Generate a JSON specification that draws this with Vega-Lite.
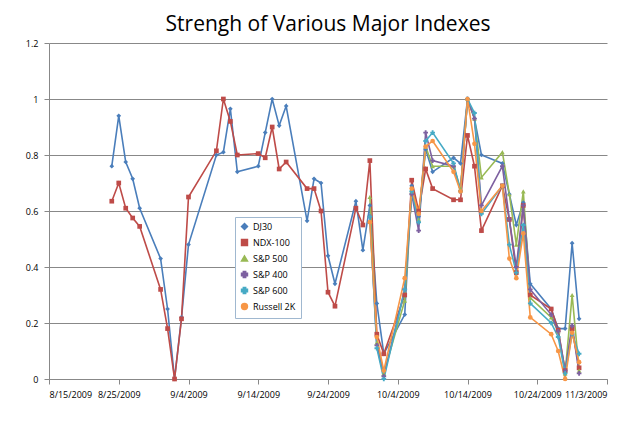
{
"$schema":"https://vega.github.io/schema/vega-lite/v6.json",
"width":558,"height":336,
"autosize":{"type":"none"},
"padding":{"left":49,"top":43,"right":33,"bottom":57},
"background":"white",
"title":{"text":"Strengh of Various Major Indexes","font":"Open Sans","fontSize":21,"fontWeight":"normal","color":"#000","anchor":"middle","offset":4},
"config":{"view":{"stroke":null},"axis":{"labelFont":"Open Sans","labelFontSize":9,"labelColor":"#000"}},
"data":{"values":[
{"d":"2009-08-24","DJ30":0.76,"NDX-100":0.635},
{"d":"2009-08-25","DJ30":0.94,"NDX-100":0.70},
{"d":"2009-08-26","DJ30":0.775,"NDX-100":0.61},
{"d":"2009-08-27","DJ30":0.715,"NDX-100":0.575},
{"d":"2009-08-28","DJ30":0.61,"NDX-100":0.545},
{"d":"2009-08-31","DJ30":0.43,"NDX-100":0.32},
{"d":"2009-09-01","DJ30":0.25,"NDX-100":0.18},
{"d":"2009-09-02","DJ30":0.0,"NDX-100":0.0},
{"d":"2009-09-03","DJ30":0.22,"NDX-100":0.215},
{"d":"2009-09-04","DJ30":0.48,"NDX-100":0.65},
{"d":"2009-09-08","DJ30":0.80,"NDX-100":0.815},
{"d":"2009-09-09","DJ30":0.81,"NDX-100":1.0},
{"d":"2009-09-10","DJ30":0.965,"NDX-100":0.92},
{"d":"2009-09-11","DJ30":0.74,"NDX-100":0.80},
{"d":"2009-09-14","DJ30":0.76,"NDX-100":0.805},
{"d":"2009-09-15","DJ30":0.88,"NDX-100":0.79},
{"d":"2009-09-16","DJ30":1.0,"NDX-100":0.90},
{"d":"2009-09-17","DJ30":0.905,"NDX-100":0.75},
{"d":"2009-09-18","DJ30":0.975,"NDX-100":0.775},
{"d":"2009-09-21","DJ30":0.565,"NDX-100":0.68},
{"d":"2009-09-22","DJ30":0.715,"NDX-100":0.68},
{"d":"2009-09-23","DJ30":0.70,"NDX-100":0.60},
{"d":"2009-09-24","DJ30":0.44,"NDX-100":0.31},
{"d":"2009-09-25","DJ30":0.34,"NDX-100":0.26},
{"d":"2009-09-28","DJ30":0.635,"NDX-100":0.61},
{"d":"2009-09-29","DJ30":0.46,"NDX-100":0.55},
{"d":"2009-09-30","DJ30":0.62,"NDX-100":0.78,"S&P 500":0.65,"S&P 400":0.58,"S&P 600":0.58,"Russell 2K":0.56},
{"d":"2009-10-01","DJ30":0.27,"NDX-100":0.16,"S&P 500":0.13,"S&P 400":0.12,"S&P 600":0.11,"Russell 2K":0.15},
{"d":"2009-10-02","DJ30":0.09,"NDX-100":0.09,"S&P 500":0.02,"S&P 400":0.01,"S&P 600":0.0,"Russell 2K":0.03},
{"d":"2009-10-05","DJ30":0.23,"NDX-100":0.30,"S&P 500":0.28,"S&P 400":0.32,"S&P 600":0.32,"Russell 2K":0.36},
{"d":"2009-10-06","DJ30":0.69,"NDX-100":0.71,"S&P 500":0.67,"S&P 400":0.66,"S&P 600":0.67,"Russell 2K":0.68},
{"d":"2009-10-07","DJ30":0.58,"NDX-100":0.60,"S&P 500":0.57,"S&P 400":0.53,"S&P 600":0.56,"Russell 2K":0.59},
{"d":"2009-10-08","DJ30":0.82,"NDX-100":0.75,"S&P 500":0.83,"S&P 400":0.88,"S&P 600":0.85,"Russell 2K":0.83},
{"d":"2009-10-09","DJ30":0.74,"NDX-100":0.68,"S&P 500":0.76,"S&P 400":0.78,"S&P 600":0.88,"Russell 2K":0.85},
{"d":"2009-10-12","DJ30":0.79,"NDX-100":0.64,"S&P 500":0.76,"S&P 400":0.76,"S&P 600":0.77,"Russell 2K":0.74},
{"d":"2009-10-13","DJ30":0.77,"NDX-100":0.64,"S&P 500":0.68,"S&P 400":0.67,"S&P 600":0.67,"Russell 2K":0.67},
{"d":"2009-10-14","DJ30":1.0,"NDX-100":0.87,"S&P 500":1.0,"S&P 400":1.0,"S&P 600":1.0,"Russell 2K":1.0},
{"d":"2009-10-15","DJ30":0.93,"NDX-100":0.76,"S&P 500":0.93,"S&P 400":0.93,"S&P 600":0.95,"Russell 2K":0.84},
{"d":"2009-10-16","DJ30":0.80,"NDX-100":0.53,"S&P 500":0.72,"S&P 400":0.62,"S&P 600":0.59,"Russell 2K":0.60},
{"d":"2009-10-19","DJ30":0.77,"NDX-100":0.69,"S&P 500":0.81,"S&P 400":0.76,"S&P 600":0.69,"Russell 2K":0.69},
{"d":"2009-10-20","DJ30":0.66,"NDX-100":0.57,"S&P 500":0.66,"S&P 400":0.57,"S&P 600":0.48,"Russell 2K":0.43},
{"d":"2009-10-21","DJ30":0.55,"NDX-100":0.38,"S&P 500":0.48,"S&P 400":0.40,"S&P 600":0.38,"Russell 2K":0.36},
{"d":"2009-10-22","DJ30":0.63,"NDX-100":0.62,"S&P 500":0.67,"S&P 400":0.62,"S&P 600":0.55,"Russell 2K":0.52},
{"d":"2009-10-23","DJ30":0.34,"NDX-100":0.30,"S&P 500":0.29,"S&P 400":0.32,"S&P 600":0.27,"Russell 2K":0.22},
{"d":"2009-10-26","DJ30":0.25,"NDX-100":0.25,"S&P 500":0.22,"S&P 400":0.23,"S&P 600":0.20,"Russell 2K":0.16},
{"d":"2009-10-27","DJ30":0.18,"NDX-100":0.175,"S&P 500":0.17,"S&P 400":0.17,"S&P 600":0.15,"Russell 2K":0.10},
{"d":"2009-10-28","DJ30":0.18,"NDX-100":0.03,"S&P 500":0.02,"S&P 400":0.03,"S&P 600":0.02,"Russell 2K":0.0},
{"d":"2009-10-29","DJ30":0.485,"NDX-100":0.18,"S&P 500":0.30,"S&P 400":0.19,"S&P 600":0.16,"Russell 2K":0.165},
{"d":"2009-10-30","DJ30":0.215,"NDX-100":0.04,"S&P 500":0.03,"S&P 400":0.02,"S&P 600":0.09,"Russell 2K":0.06}
]},
"transform":[
{"fold":["DJ30","NDX-100","S&P 500","S&P 400","S&P 600","Russell 2K"],"as":["s","v"]},
{"filter":"datum.v != null"}
],
"encoding":{
"x":{"field":"d","type":"temporal","scale":{"domain":["2009-08-15T00:00:00","2009-11-03T00:00:00"]},"axis":{"title":null,"values":["2009-08-15T00:00:00","2009-08-25T00:00:00","2009-09-04T00:00:00","2009-09-14T00:00:00","2009-09-24T00:00:00","2009-10-04T00:00:00","2009-10-14T00:00:00","2009-10-24T00:00:00","2009-11-03T00:00:00"],"format":"%-m/%-d/%Y","grid":false,"domainColor":"#888","tickColor":"#888","labelPadding":6}},
"y":{"field":"v","type":"quantitative","scale":{"domain":[0,1.2]},"axis":{"title":null,"values":[0,0.2,0.4,0.6,0.8,1,1.2],"format":"~g","gridColor":"#888","domainColor":"#888","tickColor":"#888","labelPadding":6}},
"color":{"field":"s","type":"nominal","scale":{"domain":["DJ30","NDX-100","S&P 500","S&P 400","S&P 600","Russell 2K"],"range":["#4A7EBB","#BE4B48","#98B954","#7D60A0","#46AAC5","#F79646"]},
"legend":{"title":null,"orient":"none","legendX":186,"legendY":174,"labelFont":"Open Sans","labelFontSize":9,"fillColor":"white","strokeColor":"#A0B8D0","padding":5,"rowPadding":3,"symbolSize":35}}
},
"layer":[
{"mark":{"type":"line","strokeWidth":1.6}},
{"mark":{"type":"point","filled":true,"size":22,"opacity":1},
"encoding":{"shape":{"field":"s","type":"nominal","scale":{"domain":["DJ30","NDX-100","S&P 500","S&P 400","S&P 600","Russell 2K"],"range":["diamond","square","triangle-up","cross","cross","circle"]}}}}
]
}
